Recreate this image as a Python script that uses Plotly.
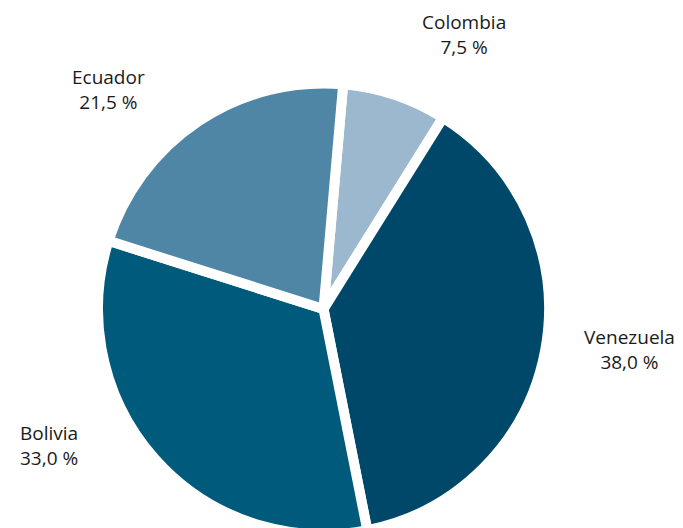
import plotly.graph_objects as go

countries = ["Colombia", "Venezuela", "Bolivia", "Ecuador"]
shares = [7.5, 38.0, 33.0, 21.5]
colors = ["#9BB8CE", "#00486A", "#005A7B", "#4F86A6"]

# label anchor positions (page pixel coords) for the outside labels
label_pos = {
    "Colombia": (464, 34.5),
    "Venezuela": (630, 349.5),
    "Bolivia": (48, 445),
    "Ecuador": (108, 89.5),
}

OFF = 8  # default page body margin
L, T, S = 89.5, 75, 452
W, H = 675, 527

fig = go.Figure(go.Pie(
    labels=countries,
    values=shares,
    sort=False,
    direction="clockwise",
    rotation=5,
    marker=dict(colors=colors, line=dict(color="white", width=10)),
    textinfo="none",
    hoverinfo="label+percent",
    showlegend=False,
))

annotations = []
for c, v in zip(countries, shares):
    px, py = label_pos[c]
    annotations.append(dict(
        x=(px - OFF - L) / S, y=1 - (py - OFF - T) / S,
        xref="paper", yref="paper",
        text=f"{c}<br>{v:.1f}".replace(".", ",") + " %",
        showarrow=False, xanchor="center", yanchor="middle",
        font=dict(family="Open Sans", size=19, color="#1a1a1a"),
        align="center",
    ))

fig.update_layout(
    width=W, height=H,
    margin=dict(l=L, r=W - L - S, t=T, b=H - T - S, autoexpand=False),
    paper_bgcolor="white",
    plot_bgcolor="white",
    annotations=annotations,
)

fig.write_html("out.html")
